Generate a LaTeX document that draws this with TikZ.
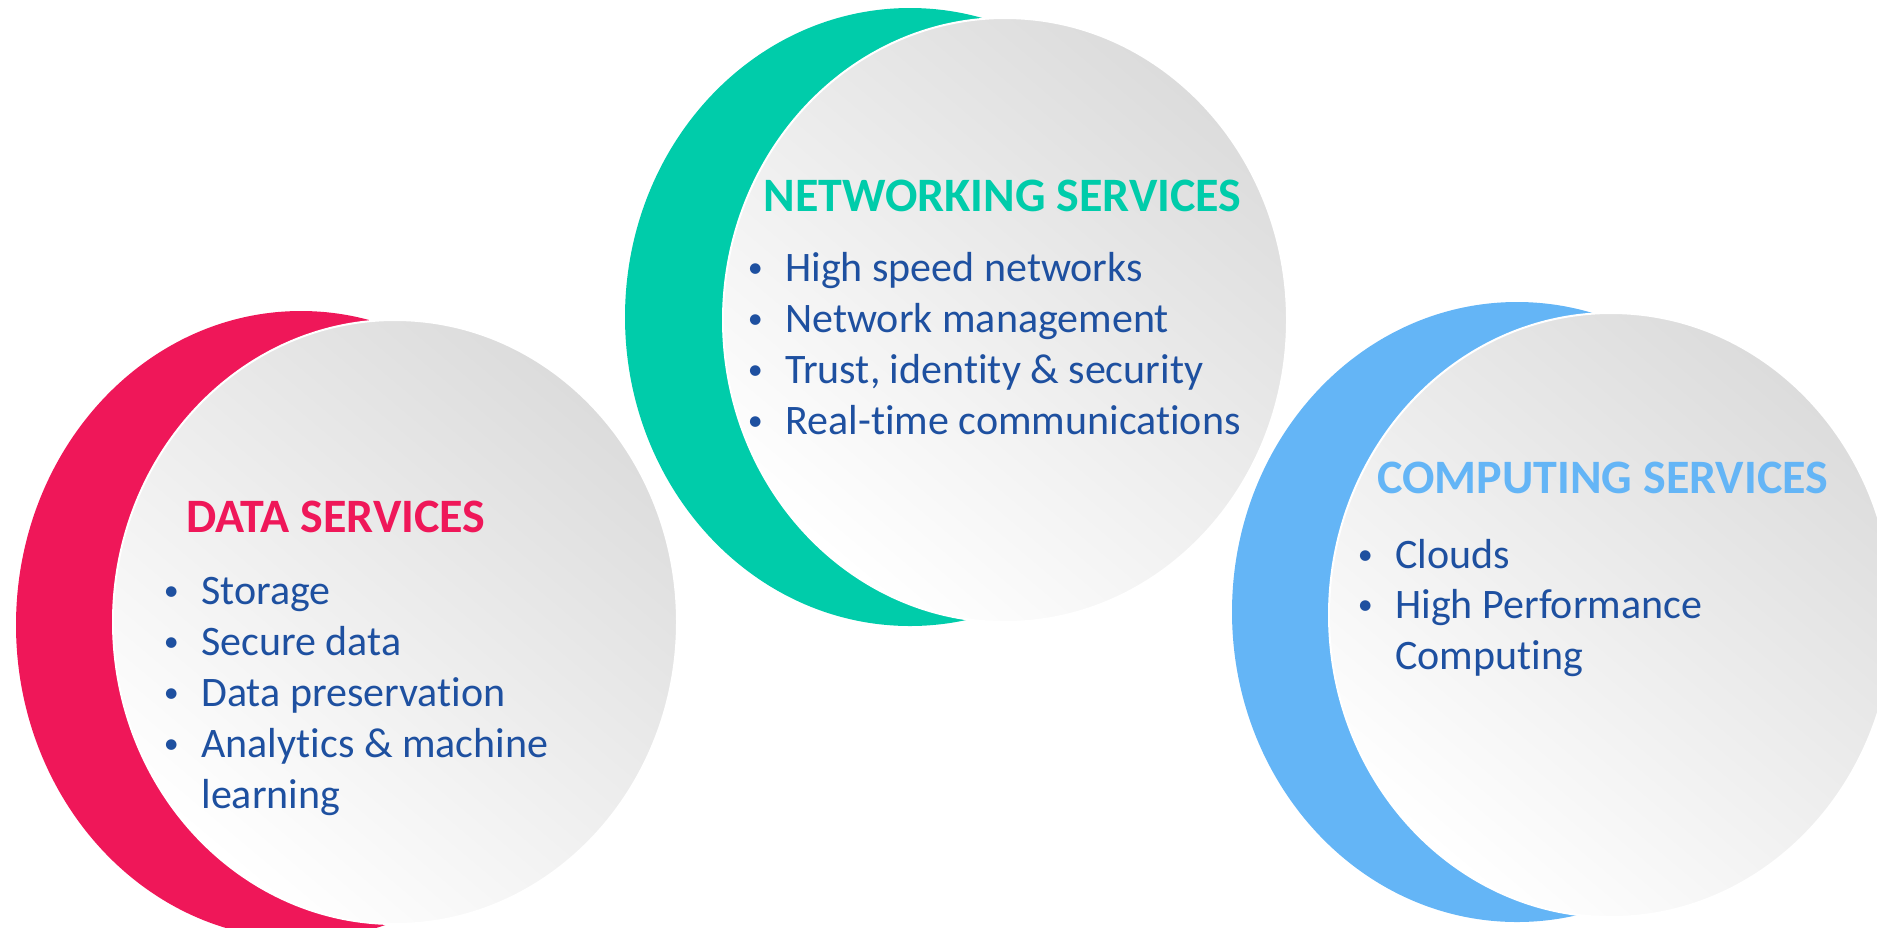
\documentclass[tikz,border=0pt]{standalone}
\usepackage{fontspec}
\setmainfont{Carlito}[Ligatures=NoCommon]
\definecolor{datapink}{HTML}{EF1759}
\definecolor{netteal}{HTML}{00CCAA}
\definecolor{compblue}{HTML}{64B5F6}
\definecolor{itemblue}{HTML}{1E50A0}
\definecolor{discgray}{HTML}{DCDCDC}
\tikzset{
  disc/.style={top color=discgray, bottom color=white, shading angle=-40, draw=white, line width=1pt},
  heading/.style={anchor=base west, inner sep=0, font=\bfseries\fontsize{24}{29}\selectfont},
  item/.style={anchor=base west, inner sep=0, text=itemblue, font=\fontsize{21}{25.5}\selectfont},
}
\newcommand{\dotitem}[1]{\llap{\makebox[30pt]{\raisebox{1.8pt}{\fontsize{15}{15}\selectfont•}}}#1}
\begin{document}
\begin{tikzpicture}[x=0.5pt,y=-0.5pt]
\useasboundingbox (0,0) rectangle (1877,927);
\clip (0,0) rectangle (1877,927);

% data services
\fill[datapink] (301,625) ellipse [x radius=285, y radius=314];
\path[disc] (395,622) ellipse [x radius=282, y radius=302];
\node[heading, text=datapink] (datatitle) at (186,532) {DATA SERVICES};
\foreach \txt [count=\i] in {Storage, Secure data, Data preservation, Analytics \& machine}
  \node[item] (data\i) at (201,553+51*\i) {\dotitem{\txt}};
\node[item] (data5) at (201,808) {learning};

% networking services
\fill[netteal] (910,317) ellipse [x radius=285, y radius=309];
\path[disc] (1005,320) ellipse [x radius=282, y radius=302];
\node[heading, text=netteal] (nettitle) at (763,211) {NETWORKING SERVICES};
\foreach \txt [count=\i] in {High speed networks, Network management, {Trust, identity \& security}, Real-time communications}
  \node[item] (net\i) at (785,230+51*\i) {\dotitem{\txt}};

% computing services
\fill[compblue] (1517,612) ellipse [x radius=285, y radius=310];
\path[disc] (1611,615) ellipse [x radius=282, y radius=302];
\node[heading, text=compblue] (comptitle) at (1377,493) {COMPUTING SERVICES};
\node[item] (comp1) at (1395,568) {\dotitem{Clouds}};
\node[item] (comp2) at (1395,618) {\dotitem{High Performance}};
\node[item] (comp3) at (1395,669) {Computing};
\end{tikzpicture}
\end{document}
